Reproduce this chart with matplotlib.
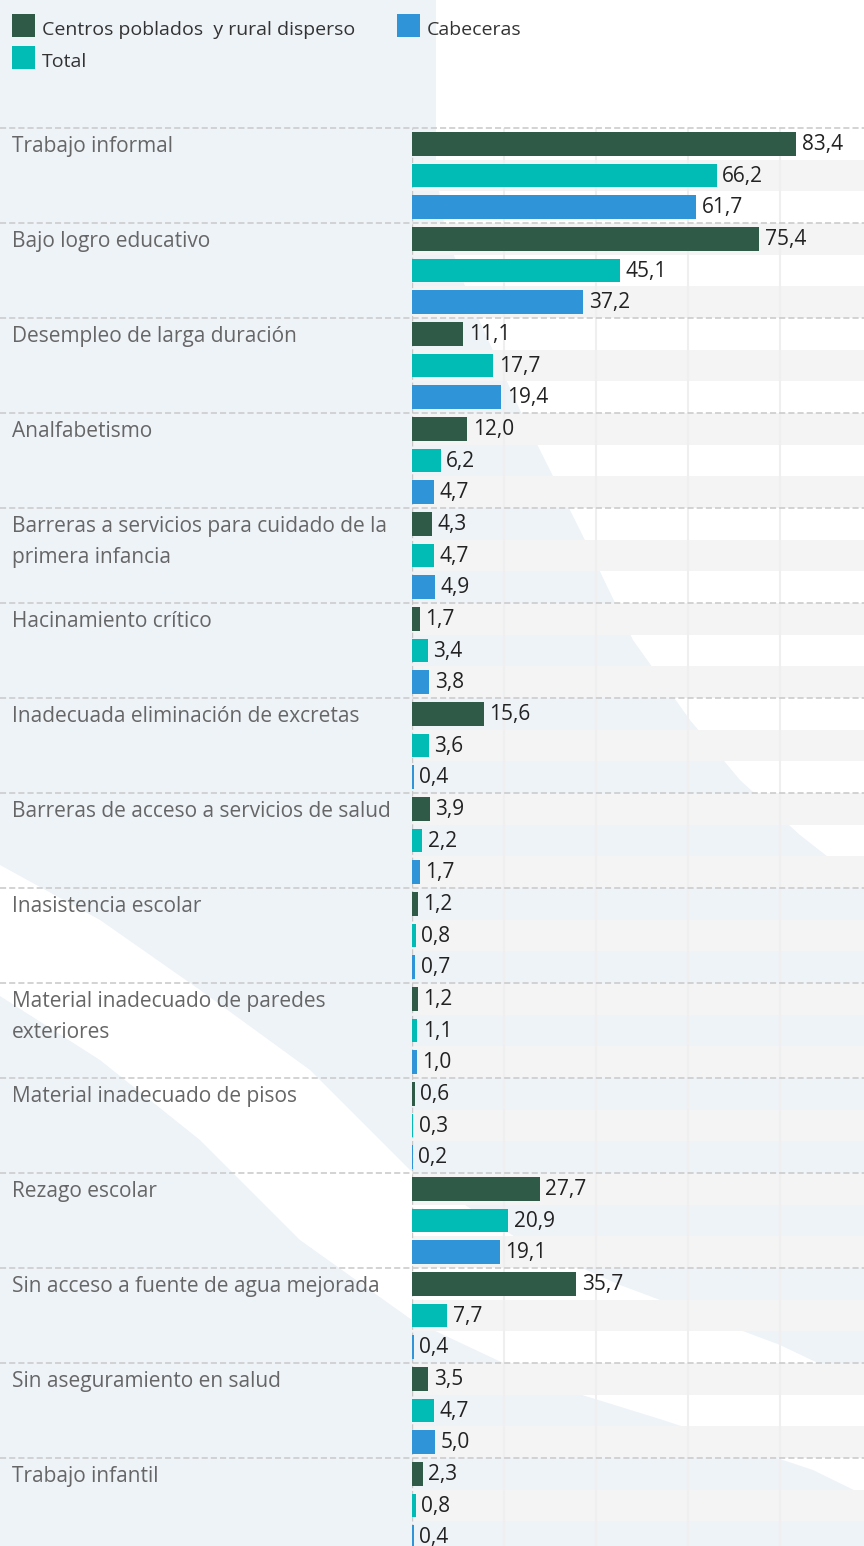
import matplotlib
matplotlib.use('Agg')
import matplotlib.pyplot as plt
from matplotlib.patches import Polygon, Rectangle
from matplotlib.transforms import blended_transform_factory

# Data
categories = [
    'Trabajo informal',
    'Bajo logro educativo',
    'Desempleo de larga duración',
    'Analfabetismo',
    'Barreras a servicios para cuidado de la\nprimera infancia',
    'Hacinamiento crítico',
    'Inadecuada eliminación de excretas',
    'Barreras de acceso a servicios de salud',
    'Inasistencia escolar',
    'Material inadecuado de paredes\nexteriores',
    'Material inadecuado de pisos',
    'Rezago escolar',
    'Sin acceso a fuente de agua mejorada',
    'Sin aseguramiento en salud',
    'Trabajo infantil',
]
centros = [83.4, 75.4, 11.1, 12.0, 4.3, 1.7, 15.6, 3.9, 1.2, 1.2, 0.6, 27.7, 35.7, 3.5, 2.3]
total = [66.2, 45.1, 17.7, 6.2, 4.7, 3.4, 3.6, 2.2, 0.8, 1.1, 0.3, 20.9, 7.7, 4.7, 0.8]
cabeceras = [61.7, 37.2, 19.4, 4.7, 4.9, 3.8, 0.4, 1.7, 0.7, 1.0, 0.2, 19.1, 0.4, 5.0, 0.4]

series_names = ['Centros poblados  y rural disperso', 'Total', 'Cabeceras']
series_values = [centros, total, cabeceras]
series_colors = ['#2e5a47', '#00bcb4', '#2f94d8']

W, H = 864, 1546
plt.rcParams['font.family'] = ['Open Sans', 'DejaVu Sans']

fig = plt.figure(figsize=(W / 100, H / 100), dpi=100)
fig.patch.set_facecolor('#eef3f8')


def px(points):
    return [(x / W, 1 - y / H) for x, y in points]


# decorative white swooshes in the background
shape_a = [(436, 0), (436, 170), (445, 230), (470, 300), (520, 410), (580, 530),
           (633, 640), (690, 720), (740, 780), (800, 835), (864, 885), (864, 0)]
shape_b = [(0, 865), (100, 920), (200, 990), (310, 1070), (410, 1170), (520, 1240),
           (620, 1285), (780, 1345), (864, 1385), (864, 1495), (813, 1470),
           (663, 1420), (550, 1385), (412, 1320), (300, 1240), (200, 1140),
           (100, 1060), (0, 996)]
for pts in (shape_a, shape_b):
    fig.add_artist(Polygon(px(pts), closed=True, transform=fig.transFigure,
                           facecolor='white', edgecolor='none', zorder=-2))

left_px, top_px = 412, 128
ax = fig.add_axes([left_px / W, 0, 1 - left_px / W, 1 - top_px / H])
ax.patch.set_visible(False)

n = len(categories)
n_slots = 3 * n
slot_px = 95 / 3

# alternating row stripes
for s in range(n_slots):
    if s % 2 == 1:
        ax.axhspan(s - 0.5, s + 0.5, color='#f4f4f4', lw=0, zorder=0)

for j, (vals, color) in enumerate(zip(series_values, series_colors)):
    ys = [3 * i + j for i in range(n)]
    ax.barh(ys, vals, height=0.75, color=color, zorder=3)
    for y, v in zip(ys, vals):
        ax.annotate(f'{v:.1f}'.replace('.', ','), (v, y), xytext=(4, 1.3),
                    textcoords='offset points', ha='left', va='center_baseline',
                    fontsize=15, color='#222222', zorder=4)

ax.set_xlim(0, (W - left_px) / 4.604)
ax.set_ylim(-0.5 + (H - top_px) / slot_px, -0.5)

ax.set_xticks([20, 40, 60, 80])
ax.set_yticks([])
ax.tick_params(length=0, labelbottom=False)
ax.grid(axis='x', color='#efefef', lw=1.5, zorder=1)
ax.set_axisbelow(True)
for sp in ax.spines.values():
    sp.set_visible(False)
ax.axvline(0, color='#c8c8c8', lw=1, ls=(0, (4, 2)), zorder=2)

# group separators and category labels across whole width
trans = blended_transform_factory(fig.transFigure, ax.transData)
for i, cat in enumerate(categories):
    ax.plot([0, 1], [3 * i - 0.5] * 2, transform=trans, clip_on=False,
            color='#c8c8c8', lw=1.1, ls=(0, (4, 2)), zorder=5)
    ax.text(12 / W, 3 * i - 0.25, cat, transform=trans, ha='left', va='top',
            fontsize=15, color='#666666', linespacing=1.63)

# legend
legend_pos = [(12, 14), (12, 46), (397, 14)]
for name, color, (lx, ly) in zip(series_names, series_colors, legend_pos):
    x0, y0 = px([(lx, ly + 23)])[0]
    fig.add_artist(Rectangle((x0, y0), 23 / W, 23 / H, transform=fig.transFigure,
                             facecolor=color, edgecolor='none'))
    tx, ty = px([(lx + 30, ly + 14)])[0]
    fig.text(tx, ty, name, ha='left', va='center_baseline', fontsize=14, color='#333333')

fig.savefig('out.png', dpi=100, facecolor=fig.get_facecolor())
